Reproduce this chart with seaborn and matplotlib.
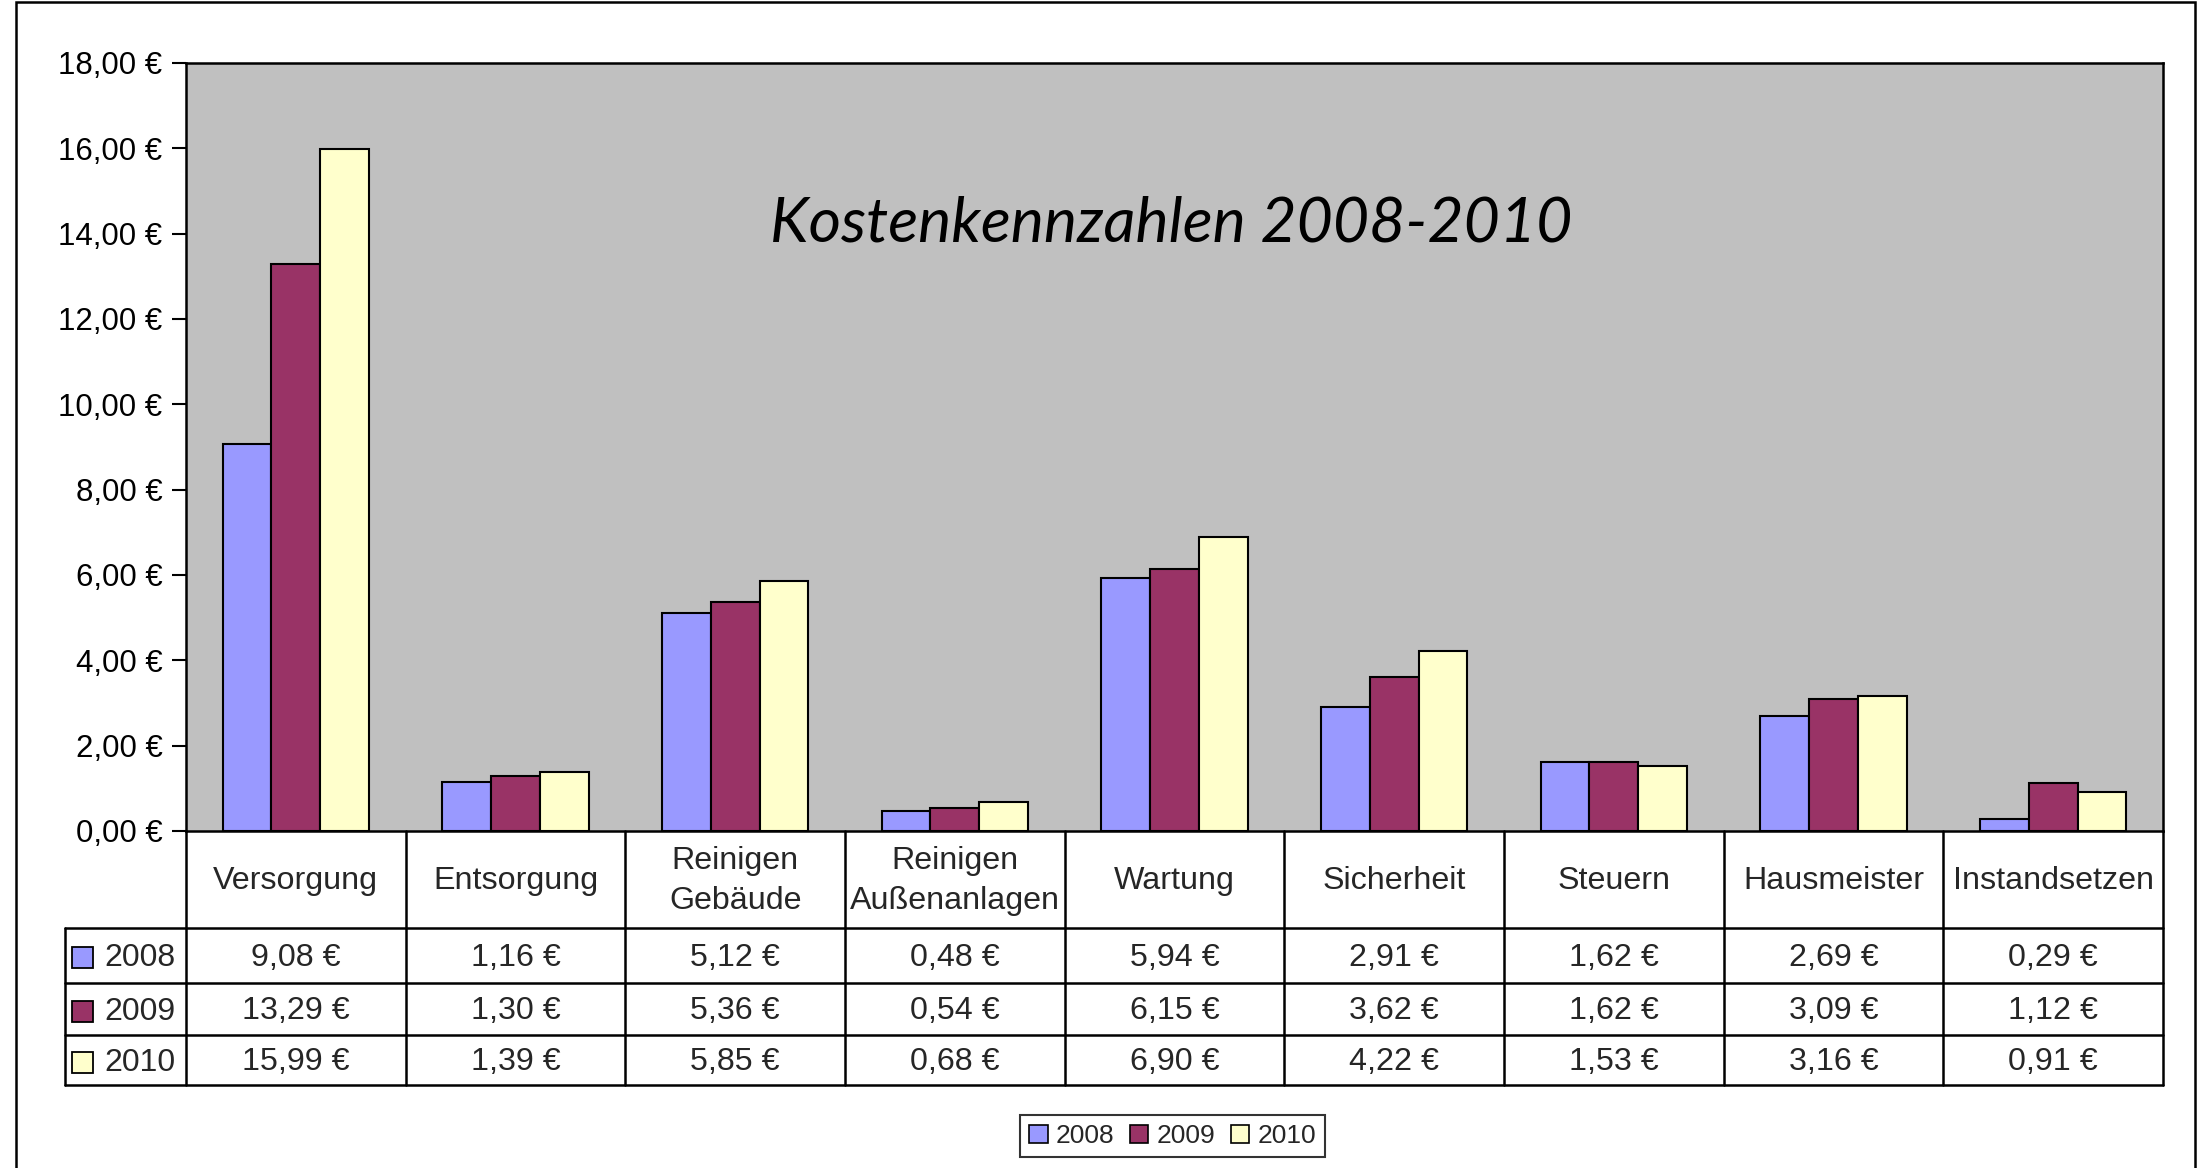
import matplotlib
matplotlib.use("Agg")
import matplotlib.pyplot as plt
import matplotlib.transforms as mtransforms
from matplotlib.patches import Rectangle, Patch
from matplotlib.lines import Line2D
from matplotlib.ticker import FuncFormatter
import seaborn as sns
import pandas as pd

# ---- data ----
categories = ["Versorgung", "Entsorgung", "Reinigen\nGebäude", "Reinigen\nAußenanlagen",
              "Wartung", "Sicherheit", "Steuern", "Hausmeister", "Instandsetzen"]
years = ["2008", "2009", "2010"]
values_2008 = [9.08, 1.16, 5.12, 0.48, 5.94, 2.91, 1.62, 2.69, 0.29]
values_2009 = [13.29, 1.30, 5.36, 0.54, 6.15, 3.62, 1.62, 3.09, 1.12]
values_2010 = [15.99, 1.39, 5.85, 0.68, 6.90, 4.22, 1.53, 3.16, 0.91]
title = "Kostenkennzahlen 2008-2010"
y_ticks = [0, 2, 4, 6, 8, 10, 12, 14, 16, 18]

colors = {"2008": "#9999FF", "2009": "#993366", "2010": "#FFFFCC"}

series = {"2008": values_2008, "2009": values_2009, "2010": values_2010}
rows = []
for y in years:
    for c, v in zip(categories, series[y]):
        rows.append({"Kategorie": c, "Jahr": y, "Wert": v})
df = pd.DataFrame(rows)

def eur(v):
    return f"{v:.2f}".replace(".", ",") + " €"

# ---- figure ----
sns.set_style("white")
plt.rcParams["font.family"] = ["Liberation Sans", "DejaVu Sans"]

W, H = 2200, 1168
fig = plt.figure(figsize=(W / 100, H / 100), dpi=100)
fig.patch.set_facecolor("white")

def fx(px):
    return px / W

def fy(py):
    return 1 - py / H

L, R, T, B = 186, 2163, 63, 831
ax = fig.add_axes([fx(L), fy(B), fx(R) - fx(L), fy(T) - fy(B)])
ax.set_facecolor("#C0C0C0")

sns.barplot(data=df, x="Kategorie", y="Wert", hue="Jahr", hue_order=years,
            order=categories, palette=colors, saturation=1, width=2 / 3,
            edgecolor="black", linewidth=1.5, legend=False, ax=ax, errorbar=None)

ax.set_xlim(-0.5, len(categories) - 0.5)
ax.set_ylim(0, 18)
ax.set_yticks(y_ticks)
ax.yaxis.set_major_formatter(FuncFormatter(lambda v, p: eur(v)))
ax.tick_params(axis="y", left=True, length=10, width=1.5, pad=7, labelsize=22.5,
               color="black", labelcolor="black", direction="out")
ax.tick_params(axis="x", bottom=False, labelbottom=False)
ax.set_xlabel("")
ax.set_ylabel("")
for s in ax.spines.values():
    s.set_visible(True)
    s.set_color("black")
    s.set_linewidth(1.8)

# title
fig.text(fx(1171), fy(224), title, ha="center", va="center", fontsize=45,
         family=["Lato", "DejaVu Sans"], style="italic", color="black")

# ---- data table ----
trans = mtransforms.blended_transform_factory(ax.transData, fig.transFigure)
lw = 1.8
row_lines = [928, 983, 1035, 1085]
leg_left = 65
tsize = 23.2

# vertical column lines
for i in range(len(categories) + 1):
    xpos = -0.5 + i
    fig.add_artist(Line2D([xpos, xpos], [fy(B), fy(1085)], transform=trans,
                          color="black", lw=lw))
# legend column left line
fig.add_artist(Line2D([fx(leg_left), fx(leg_left)], [fy(928), fy(1085)],
                      transform=fig.transFigure, color="black", lw=lw))
# horizontal lines
for yl in row_lines:
    fig.add_artist(Line2D([fx(leg_left), fx(R)], [fy(yl), fy(yl)],
                          transform=fig.transFigure, color="black", lw=lw))

# header labels
for i, c in enumerate(categories):
    fig.text(i, fy(881), c, transform=trans, ha="center", va="center",
             fontsize=tsize, linespacing=1.45)

# values and row labels
row_centers = [(row_lines[k] + row_lines[k + 1]) / 2 + 2 for k in range(3)]
for k, y in enumerate(years):
    yc = row_centers[k]
    for i, v in enumerate(series[y]):
        fig.text(i, fy(yc), eur(v), transform=trans, ha="center", va="center",
                 fontsize=tsize)
    sq = 21
    fig.add_artist(Rectangle((fx(72), fy(yc + sq / 2)), fx(sq), sq / H,
                             transform=fig.transFigure, facecolor=colors[y],
                             edgecolor="black", lw=1.3))
    fig.text(fx(104), fy(yc + 1), y, ha="left", va="center", fontsize=23)

# legend
handles = [Patch(facecolor=colors[y], edgecolor="black", lw=1.2) for y in years]
leg = fig.legend(handles=handles, labels=years, loc="center",
                 bbox_to_anchor=(fx(1172.5), fy(1136)), ncol=3, frameon=True,
                 fancybox=False, edgecolor="black", fontsize=19,
                 handlelength=0.7, handleheight=0.7, handletextpad=0.3,
                 columnspacing=0.6, borderpad=0.35, borderaxespad=0)
leg.get_frame().set_linewidth(1.5)

# outer chart border
fig.add_artist(Rectangle((fx(16), fy(1200)), fx(2195) - fx(16), fy(2) - fy(1200),
                         transform=fig.transFigure, facecolor="none",
                         edgecolor="black", lw=1.8))

fig.savefig("out.png", dpi=100, facecolor="white")
